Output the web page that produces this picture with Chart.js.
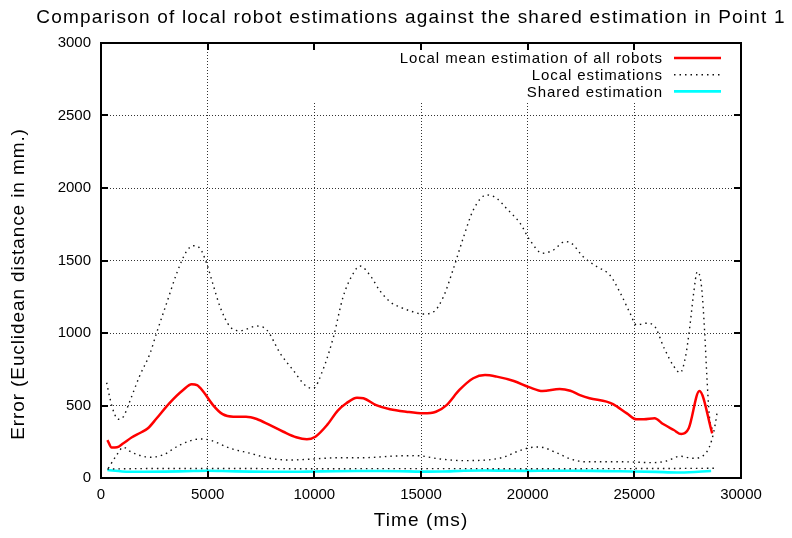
<!DOCTYPE html>
<html>
<head>
<meta charset="utf-8">
<script src="https://cdn.jsdelivr.net/npm/chart.js@4.4.1/dist/chart.umd.min.js"></script>
<style>
  html, body { margin: 0; padding: 0; background: #fff; }
  #wrap { width: 792px; height: 538px; position: relative; }
</style>
</head>
<body>
<div id="wrap"><canvas id="c" width="792" height="538"></canvas></div>
<script>
// ---------- data ----------
const chartTitle = "Comparison of local robot estimations against the shared estimation in Point 1";
const xTitle = "Time (ms)";
const yTitle = "Error (Euclidean distance in mm.)";
const seriesLabels = ["Local mean estimation of all robots", "Local estimations", "Shared estimation"];

const xTicks = [0, 5000, 10000, 15000, 20000, 25000, 30000];
const yTicks = [0, 500, 1000, 1500, 2000, 2500, 3000];

// Local mean estimation of all robots
const meanTime  = [300, 500, 750, 1050, 1450, 1850, 2200, 2600, 3200, 3850, 4250, 4500, 4800, 5250, 5700, 6200, 6800, 7300, 7900, 8550, 9150, 9650, 10050, 10600, 11100, 11500, 12000, 12300, 12900, 13550, 14300, 15100, 15700, 16200, 16800, 17450, 18000, 18550, 19350, 20100, 20700, 21500, 22000, 22450, 22900, 23700, 24000, 24650, 25100, 25450, 25950, 26350, 26850, 27200, 27550, 28050, 28650];
const meanError = [262, 210, 212, 240, 281, 312, 343, 410, 515, 607, 646, 640, 595, 503, 440, 423, 423, 407, 366, 319, 281, 267, 285, 366, 465, 515, 554, 550, 503, 474, 457, 446, 457, 503, 607, 688, 710, 699, 669, 625, 600, 614, 602, 572, 550, 527, 510, 446, 405, 405, 412, 372, 331, 303, 343, 600, 308];

// Local estimations: upper robot
const localATime  = [265, 420, 620, 810, 1050, 1300, 1800, 2300, 2600, 3100, 3550, 4000, 4330, 4640, 4950, 5260, 5580, 6050, 6520, 7300, 7770, 8400, 9000, 9640, 9950, 10400, 10900, 11350, 11830, 12140, 12600, 13080, 13550, 14000, 14500, 15100, 15600, 16050, 16500, 17000, 17450, 18080, 18550, 19000, 19650, 20100, 20700, 21200, 21750, 22050, 22600, 23250, 23850, 24350, 24800, 25100, 25550, 25900, 26400, 26850, 27150, 27400, 27600, 27780, 27950, 28150, 28300, 28400, 28520, 28700];
const localAError = [657, 550, 446, 405, 423, 510, 700, 860, 998, 1216, 1412, 1561, 1602, 1584, 1481, 1331, 1181, 1043, 1016, 1048, 1021, 860, 745, 630, 619, 745, 975, 1250, 1412, 1462, 1400, 1290, 1215, 1180, 1152, 1131, 1147, 1250, 1435, 1664, 1848, 1952, 1929, 1860, 1756, 1641, 1550, 1572, 1630, 1619, 1526, 1457, 1400, 1274, 1136, 1055, 1067, 1055, 895, 770, 726, 837, 1043, 1274, 1423, 1320, 998, 700, 423, 319];

// Local estimations: middle robot
const localBTime  = [340, 700, 1050, 1350, 1670, 2300, 2900, 3700, 4640, 5100, 6050, 7000, 7900, 8850, 9950, 11100, 12300, 13850, 14800, 15900, 17000, 18080, 18900, 19480, 20100, 20550, 21350, 22000, 22700, 24300, 25900, 26500, 27150, 27750, 28400, 28630, 28800, 28900];
const localBError = [67, 150, 212, 185, 163, 143, 159, 228, 269, 262, 205, 170, 136, 124, 131, 140, 140, 152, 154, 131, 120, 124, 145, 181, 209, 214, 174, 132, 112, 112, 106, 117, 150, 136, 181, 262, 377, 470];

// Local estimations: lower robot
const localCTime  = [300, 2000, 5000, 10000, 15000, 20000, 25000, 28900];
const localCError = [62, 65, 66, 64, 65, 64, 65, 67];

// Shared estimation
const sharedTime  = [300, 1000, 2000, 3000, 4000, 5000, 6000, 7000, 8000, 9000, 10000, 11000, 12000, 13000, 14000, 15000, 16000, 17000, 18000, 19000, 20000, 21000, 22000, 23000, 24000, 25000, 26000, 27000, 28000, 28600];
const sharedError = [55, 45, 43, 44, 47, 50, 47, 44, 43, 43, 45, 47, 48, 48, 47, 44, 45, 50, 52, 50, 49, 50, 50, 49, 47, 45, 42, 38, 43, 48];

// ---------- helpers ----------
const pts = (t, v) => t.map((x, i) => ({ x: x, y: v[i] }));
const FONT = "'Liberation Sans', Arial, Helvetica, sans-serif";

const gnuplotDecor = {
  id: 'gnuplotDecor',
  beforeDatasetsDraw(chart) {
    // blank the grid behind the key, as gnuplot does
    const { ctx, chartArea: a, scales: { x, y } } = chart;
    const l = x.getPixelForValue(7000);
    const b = y.getPixelForValue(2600);
    ctx.save();
    ctx.fillStyle = '#fff';
    ctx.fillRect(l, a.top + 1, a.right - 1 - l, b - a.top - 1);
    ctx.restore();
  },
  afterDraw(chart) {
    const { ctx, chartArea: a, scales: { x, y } } = chart;
    ctx.save();
    // frame
    ctx.strokeStyle = '#000';
    ctx.lineWidth = 2;
    ctx.strokeRect(a.left, a.top, a.right - a.left, a.bottom - a.top);
    // inward ticks on all sides
    const tl = 7;
    ctx.beginPath();
    yTicks.forEach(v => {
      const py = Math.round(y.getPixelForValue(v));
      ctx.moveTo(a.left, py); ctx.lineTo(a.left + tl, py);
      ctx.moveTo(a.right, py); ctx.lineTo(a.right - tl, py);
    });
    xTicks.forEach(v => {
      const px = Math.round(x.getPixelForValue(v));
      ctx.moveTo(px, a.bottom); ctx.lineTo(px, a.bottom - tl);
      ctx.moveTo(px, a.top); ctx.lineTo(px, a.top + tl);
    });
    ctx.stroke();

    ctx.fillStyle = '#000';
    ctx.textBaseline = 'middle';

    // title
    ctx.font = '19px ' + FONT;
    ctx.textAlign = 'left';
    ctx.letterSpacing = '1.2px';
    const tw = ctx.measureText(chartTitle).width;
    ctx.fillText(chartTitle, 411 - tw / 2, 18);
    ctx.letterSpacing = '0px';

    // x title
    ctx.font = '19px ' + FONT;
    ctx.letterSpacing = '1.1px';
    const xw = ctx.measureText(xTitle).width;
    ctx.fillText(xTitle, (a.left + a.right) / 2 - xw / 2, 521);
    ctx.letterSpacing = '0px';

    // y title
    ctx.save();
    ctx.translate(19, 284);
    ctx.rotate(-Math.PI / 2);
    ctx.font = '19px ' + FONT;
    ctx.letterSpacing = '0.9px';
    const yw = ctx.measureText(yTitle).width;
    ctx.fillText(yTitle, -yw / 2, 0);
    ctx.letterSpacing = '0px';
    ctx.restore();

    // key
    ctx.font = '15px ' + FONT;
    ctx.textAlign = 'left';
    const textRight = a.right - 78;
    const sL = a.right - 67, sR = a.right - 20;
    let row = 0;
    chart.data.datasets.forEach(ds => {
      if (ds.inKey === false) return;
      const ry = a.top + 15 + row * 16.7;
      ctx.fillStyle = '#000';
      ctx.letterSpacing = '0.9px';
      const w = ctx.measureText(ds.label).width;
      ctx.fillText(ds.label, textRight - w, ry + 1);
      ctx.letterSpacing = '0px';
      ctx.save();
      ctx.strokeStyle = ds.borderColor;
      ctx.lineWidth = ds.borderWidth;
      ctx.setLineDash(ds.borderDash || []);
      ctx.beginPath();
      ctx.moveTo(sL, ry); ctx.lineTo(sR, ry);
      ctx.stroke();
      ctx.restore();
      row++;
    });
    ctx.restore();
  }
};

const dotted = [1.5, 4];
const dotColor = '#111111';
const common = { pointRadius: 0, fill: false, cubicInterpolationMode: 'monotone' };

new Chart(document.getElementById('c'), {
  type: 'line',
  data: {
    datasets: [
      Object.assign({ label: seriesLabels[0], data: pts(meanTime, meanError), borderColor: '#ff0000', borderWidth: 2.5 }, common),
      Object.assign({ label: seriesLabels[1], data: pts(localATime, localAError), borderColor: dotColor, borderWidth: 1.4, borderDash: dotted }, common),
      Object.assign({ label: seriesLabels[1], inKey: false, data: pts(localBTime, localBError), borderColor: dotColor, borderWidth: 1.4, borderDash: dotted }, common),
      Object.assign({ label: seriesLabels[1], inKey: false, data: pts(localCTime, localCError), borderColor: dotColor, borderWidth: 1.4, borderDash: dotted }, common),
      Object.assign({ label: seriesLabels[2], data: pts(sharedTime, sharedError), borderColor: '#00ffff', borderWidth: 2.6 }, common)
    ]
  },
  plugins: [gnuplotDecor],
  options: {
    responsive: false,
    animation: false,
    layout: { padding: { top: 43, right: 51, left: 0, bottom: 0 } },
    plugins: { legend: { display: false }, title: { display: false }, tooltip: { enabled: false } },
    scales: {
      x: {
        type: 'linear', min: 0, max: 30000,
        afterBuildTicks: s => { s.ticks = xTicks.map(v => ({ value: v })); },
        afterFit: s => { s.height = 60; },
        grid: { color: 'rgba(0,0,0,0.8)', lineWidth: 1, drawTicks: false },
        border: { display: false, dash: [1, 2] },
        ticks: { color: '#000', font: { family: FONT, size: 15 }, padding: 8, maxRotation: 0, callback: v => String(v) }
      },
      y: {
        min: 0, max: 3000,
        afterBuildTicks: s => { s.ticks = yTicks.map(v => ({ value: v })); },
        afterFit: s => { s.width = 101; },
        grid: { color: 'rgba(0,0,0,0.8)', lineWidth: 1, drawTicks: false },
        border: { display: false, dash: [1, 2] },
        ticks: { color: '#000', font: { family: FONT, size: 15 }, padding: 10, callback: v => String(v) }
      }
    }
  }
});
</script>
</body>
</html>
